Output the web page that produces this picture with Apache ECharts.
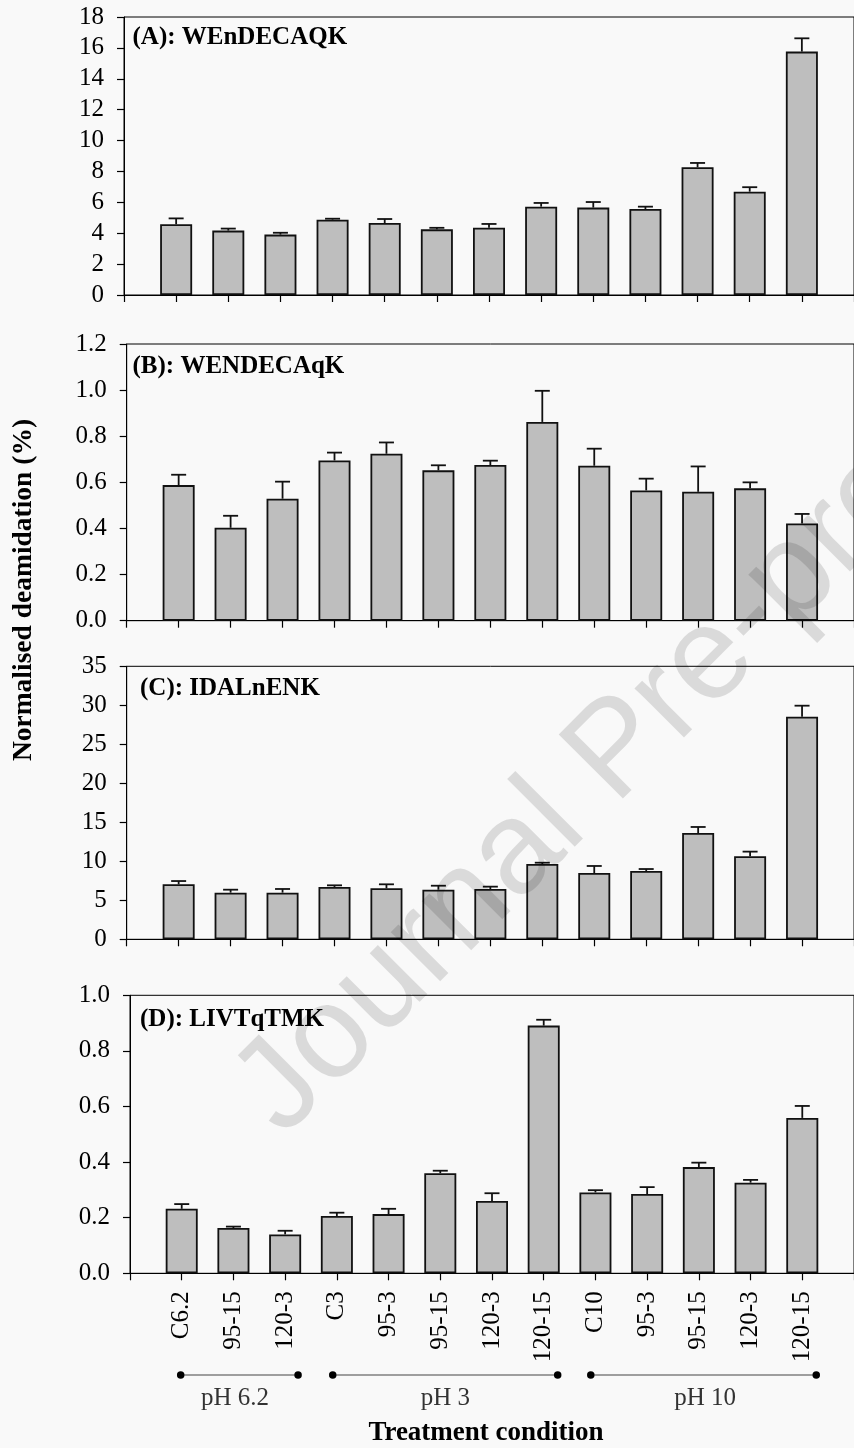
<!DOCTYPE html>
<html>
<head>
<meta charset="utf-8">
<script src="https://cdn.jsdelivr.net/npm/echarts@6/dist/echarts.min.js"></script>
<style>
html,body{margin:0;padding:0;background:#f9f9f9;}
#chart{width:854px;height:1448px;}
</style>
</head>
<body>
<div id="chart"></div>
<script>
// ---------- data ----------
const categories = ['C6.2','95-15','120-3','C3','95-3','95-15','120-3','120-15','C10','95-3','95-15','120-3','120-15'];
const panelTitles = ['(A): WEnDECAQK','(B): WENDECAqK','(C): IDALnENK','(D): LIVTqTMK'];

const valuesA = [4.58, 4.17, 3.91, 4.88, 4.66, 4.25, 4.36, 5.72, 5.66, 5.57, 8.27, 6.69, 15.76];
const errorsA = [0.38, 0.13, 0.12, 0.06, 0.26, 0.10, 0.24, 0.24, 0.36, 0.15, 0.28, 0.29, 0.86];

const valuesB = [0.588, 0.403, 0.529, 0.695, 0.724, 0.652, 0.675, 0.862, 0.672, 0.565, 0.559, 0.574, 0.422];
const errorsB = [0.045, 0.052, 0.074, 0.034, 0.049, 0.022, 0.019, 0.135, 0.074, 0.051, 0.110, 0.026, 0.041];

const valuesC = [7.05, 5.98, 5.98, 6.71, 6.54, 6.36, 6.45, 9.65, 8.50, 8.76, 13.63, 10.64, 28.54];
const errorsC = [0.42, 0.38, 0.47, 0.21, 0.51, 0.51, 0.30, 0.17, 0.90, 0.25, 0.77, 0.60, 1.41];

const valuesD = [0.232, 0.163, 0.140, 0.206, 0.213, 0.360, 0.260, 0.891, 0.291, 0.285, 0.382, 0.326, 0.559];
const errorsD = [0.017, 0.005, 0.013, 0.012, 0.019, 0.009, 0.028, 0.021, 0.008, 0.025, 0.016, 0.010, 0.043];

const yMaxes = [18, 1.2, 35, 1.0];
const yIntervals = [2, 0.2, 5, 0.2];
const yDecimals = [0, 1, 0, 1];

const groupNames = ['pH 6.2', 'pH 3', 'pH 10'];
const groupStart = [0.98, 3.92, 8.91];   // in category units
const groupEnd = [3.25, 8.27, 13.27];
const groupLabelAt = [2.03, 6.10, 11.12];

const yAxisTitle = 'Normalised deamidation (%)';
const xAxisTitle = 'Treatment condition';
const watermark = 'Journal Pre-proof';

// ---------- layout / style ----------
const layout = [
  {left: 124,   top: 17,    height: 278,   step: 52.67, titleX: 132.5, titleY: 38},
  {left: 126.7, top: 344,   height: 276.7, step: 52.64, titleX: 132.5, titleY: 366.5},
  {left: 126.7, top: 666.3, height: 273,   step: 52.30, titleX: 140,   titleY: 689},
  {left: 130,   top: 995.3, height: 278,   step: 51.86, titleX: 140,   titleY: 1020}
];
const SERIF = '"Liberation Serif", "Times New Roman", serif';
const BAR_FILL = '#bebebe';
const INK = '#000';

const allValues = [valuesA, valuesB, valuesC, valuesD];
const allErrors = [errorsA, errorsB, errorsC, errorsD];
const axisCats = [''].concat(categories, ['']);

const grids = [], xAxes = [], yAxes = [], series = [], graphics = [];

layout.forEach((L, p) => {
  grids.push({
    left: L.left, top: L.top, height: L.height, width: L.step * 14,
    show: true, borderColor: INK, borderWidth: 1, backgroundColor: 'transparent'
  });
  xAxes.push({
    type: 'category', gridIndex: p, data: axisCats, boundaryGap: false,
    axisLine: {show: true, lineStyle: {color: INK, width: 1}},
    axisTick: {show: true, inside: false, length: 7, lineStyle: {color: INK, width: 1.2}, alignWithLabel: true, interval: 0},
    axisLabel: p === 3 ? {
      show: true, rotate: 90, margin: 18, interval: 0,
      fontFamily: SERIF, fontSize: 25, color: INK
    } : {show: false},
    splitLine: {show: false}
  });
  yAxes.push({
    type: 'value', gridIndex: p, min: 0, max: yMaxes[p], interval: yIntervals[p],
    axisLine: {show: true, lineStyle: {color: INK, width: 1}},
    axisTick: {show: true, length: 7, lineStyle: {color: INK, width: 1.2}},
    axisLabel: {
      margin: 20, fontFamily: SERIF, fontSize: 25, color: INK,
      formatter: (v) => v.toFixed(yDecimals[p])
    },
    splitLine: {show: false}
  });
  const vals = allValues[p], errs = allErrors[p];
  series.push({
    type: 'bar', xAxisIndex: p, yAxisIndex: p,
    data: ['-'].concat(vals, ['-']),
    barWidth: 32,
    itemStyle: {color: BAR_FILL, borderColor: '#111', borderWidth: 1.8},
    z: 2, silent: true
  });
  series.push({
    type: 'custom', xAxisIndex: p, yAxisIndex: p,
    data: vals.map((v, i) => [i + 1, v, errs[i]]),
    renderItem: function (params, api) {
      const x = api.value(0), v = api.value(1), e = api.value(2);
      const base = api.coord([x, v]);
      const top = api.coord([x, v + e]);
      const half = 7.5;
      const st = {stroke: '#111', lineWidth: 1.8};
      return {
        type: 'group',
        children: [
          {type: 'line', shape: {x1: base[0], y1: base[1], x2: top[0], y2: top[1]}, style: st},
          {type: 'line', shape: {x1: top[0] - half, y1: top[1], x2: top[0] + half, y2: top[1]}, style: st}
        ]
      };
    },
    z: 3, silent: true
  });
  graphics.push({
    type: 'text', x: L.titleX, y: L.titleY, silent: true,
    style: {text: panelTitles[p], font: 'bold 25px ' + SERIF, fill: INK, align: 'left', verticalAlign: 'middle'}
  });
});

// group bracket grid (aligned with panel D)
const D = layout[3];
grids.push({left: D.left, top: 1370, height: 10, width: D.step * 14, show: false});
xAxes.push({type: 'value', gridIndex: 4, min: 0, max: 14, show: false});
yAxes.push({type: 'value', gridIndex: 4, min: 0, max: 1, show: false});
groupNames.forEach((g, i) => {
  series.push({
    type: 'line', xAxisIndex: 4, yAxisIndex: 4,
    data: [[groupStart[i], 0.5], [groupEnd[i], 0.5]],
    symbol: 'circle', symbolSize: 7.5, showSymbol: true,
    lineStyle: {color: '#444', width: 1.2},
    itemStyle: {color: '#000'},
    silent: true, animation: false
  });
});
series.push({
  type: 'scatter', xAxisIndex: 4, yAxisIndex: 4,
  data: groupNames.map((g, i) => ({value: [groupLabelAt[i], 0.5], name: g})),
  symbolSize: 0,
  label: {show: true, position: 'inside', offset: [0, 23], formatter: (p) => p.name,
          fontFamily: SERIF, fontSize: 25, color: INK},
  silent: true, animation: false
});

// axis titles
graphics.push({
  type: 'text', x: 24, y: 590, rotation: Math.PI / 2, silent: true,
  style: {text: yAxisTitle, font: 'bold 27.5px ' + SERIF, fill: INK, align: 'center', verticalAlign: 'middle'}
});
graphics.push({
  type: 'text', x: 486, y: 1433, silent: true,
  style: {text: xAxisTitle, font: 'bold 27px ' + SERIF, fill: INK, align: 'center', verticalAlign: 'middle'}
});
// watermark
graphics.push({
  type: 'text', x: 618, y: 752, rotation: Math.PI / 4, silent: true, z: 100,
  style: {text: watermark, font: '132px "Liberation Sans", Arial, sans-serif', fill: 'rgba(0,0,0,0.12)', align: 'center', verticalAlign: 'middle'}
});

const chart = echarts.init(document.getElementById('chart'), null, {renderer: 'canvas'});
chart.setOption({
  backgroundColor: '#f9f9f9',
  animation: false,
  grid: grids,
  xAxis: xAxes,
  yAxis: yAxes,
  series: series,
  graphic: graphics
});
</script>
</body>
</html>
